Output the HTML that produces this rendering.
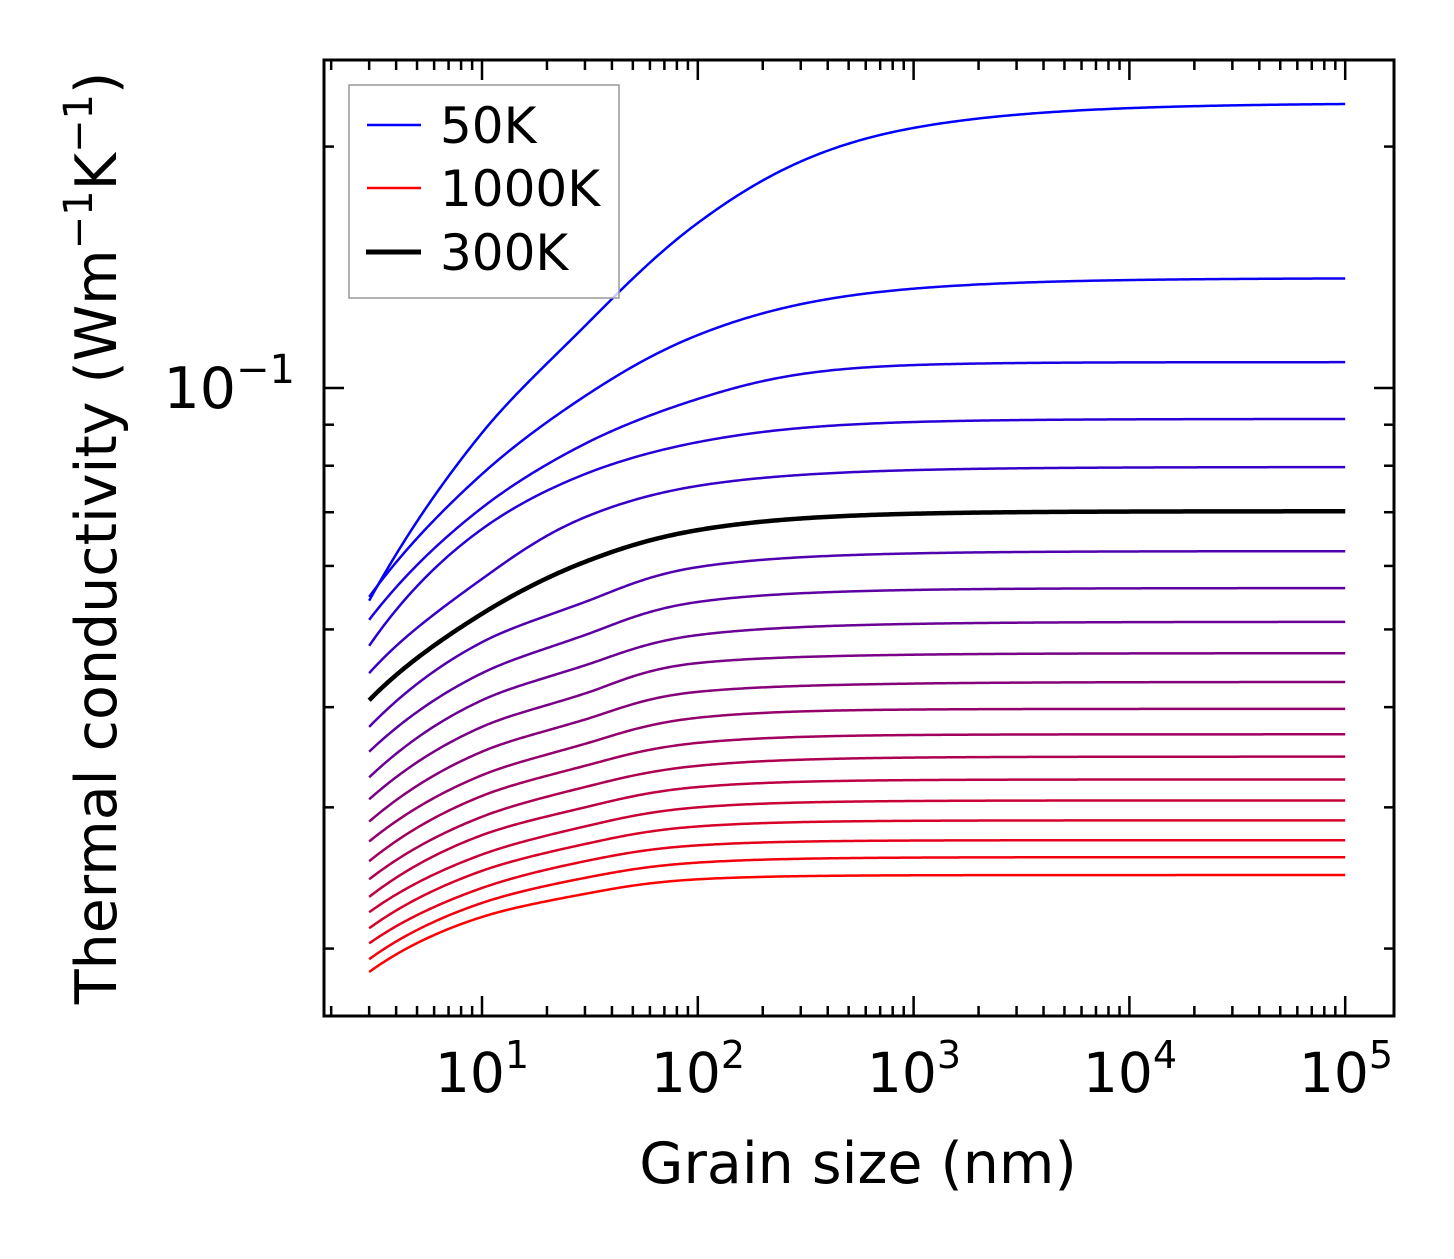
<!DOCTYPE html>
<html><head><meta charset="utf-8"><style>
html,body{margin:0;padding:0;background:#fff;}
svg text{font-family:"DejaVu Sans","Liberation Sans",sans-serif;fill:#000;}
</style></head><body>
<svg id="chart" width="1454" height="1254" viewBox="0 0 1454 1254" xmlns="http://www.w3.org/2000/svg">
<g id="curves"></g>
<g id="ticks"></g>
<rect x="324" y="60" width="1070" height="956" fill="none" stroke="#000" stroke-width="3"/>
<text x="482" y="1092" font-size="55" text-anchor="middle">10<tspan font-size="38" dy="-24">1</tspan></text>
<text x="698" y="1092" font-size="55" text-anchor="middle">10<tspan font-size="38" dy="-24">2</tspan></text>
<text x="914" y="1092" font-size="55" text-anchor="middle">10<tspan font-size="38" dy="-24">3</tspan></text>
<text x="1130" y="1092" font-size="55" text-anchor="middle">10<tspan font-size="38" dy="-24">4</tspan></text>
<text x="1346" y="1092" font-size="55" text-anchor="middle">10<tspan font-size="38" dy="-24">5</tspan></text>
<text x="295" y="408" font-size="57" text-anchor="end">10<tspan font-size="40" dy="-25">−1</tspan></text>
<text x="858" y="1183" font-size="57" text-anchor="middle">Grain size (nm)</text>
<text transform="translate(116,538) rotate(-90)" font-size="57" text-anchor="middle">Thermal conductivity (Wm<tspan font-size="40" dy="-24">−1</tspan><tspan dy="24">K</tspan><tspan font-size="40" dy="-24">−1</tspan><tspan dy="24">)</tspan></text>
<g>
<rect x="349" y="85" width="270" height="213" fill="#fff" fill-opacity="0.8" stroke="#999" stroke-width="1.5"/>
<line x1="367" y1="125" x2="421" y2="125" stroke="#0000ff" stroke-width="2.5"/>
<text x="440" y="143" font-size="50">50K</text>
<line x1="367" y1="188" x2="421" y2="188" stroke="#ff0000" stroke-width="2.5"/>
<text x="440" y="206" font-size="50">1000K</text>
<line x1="366" y1="252" x2="421" y2="252" stroke="#000" stroke-width="5"/>
<text x="440" y="270" font-size="50">300K</text>
</g>
</svg>
<script>
const grainSizes = [3, 10, 30, 100, 1000, 100000];
const temperatures = [50,100,150,200,250,300,350,400,450,500,550,600,650,700,750,800,850,900,950,1000];
const k50 = [0.0543,0.0879,0.1195,0.1606,0.2110,0.2267];
const k100 = [0.0549,0.0781,0.0977,0.1164,0.1330,0.1371];
const k150 = [0.0514,0.0709,0.0852,0.0969,0.1068,0.1077];
const k200 = [0.0477,0.0667,0.0781,0.0856,0.0907,0.0915];
const k250 = [0.0441,0.0578,0.0690,0.0755,0.0790,0.0797];
const k300 = [0.0408,0.0523,0.0607,0.0665,0.0697,0.0702];
const k350 = [0.0378,0.0482,0.0541,0.0598,0.0622,0.0626];
const k400 = [0.0352,0.0441,0.0492,0.0541,0.0560,0.0563];
const k450 = [0.0327,0.0408,0.0451,0.0492,0.0508,0.0511];
const k500 = [0.0307,0.0378,0.0416,0.0454,0.0465,0.0467];
const k550 = [0.0288,0.0352,0.0386,0.0418,0.0428,0.0430];
const k600 = [0.0272,0.0329,0.0360,0.0388,0.0398,0.0398];
const k650 = [0.0257,0.0310,0.0338,0.0361,0.0370,0.0370];
const k700 = [0.0244,0.0292,0.0318,0.0338,0.0347,0.0347];
const k750 = [0.0232,0.0277,0.0300,0.0318,0.0325,0.0325];
const k800 = [0.0222,0.0262,0.0284,0.0300,0.0306,0.0306];
const k850 = [0.0212,0.0250,0.0270,0.0284,0.0289,0.0289];
const k900 = [0.0203,0.0238,0.0257,0.0269,0.0273,0.0273];
const k950 = [0.0194,0.0228,0.0245,0.0256,0.0260,0.0260];
const k1000 = [0.0187,0.0219,0.0234,0.0244,0.0247,0.0247];
const series = [k50,k100,k150,k200,k250,k300,k350,k400,k450,k500,k550,k600,k650,k700,k750,k800,k850,k900,k950,k1000];
const highlightIndex = 5;

const NS = "http://www.w3.org/2000/svg";
const X0 = 482, XDEC = 215.8;
const Y0 = 388, YDEC = 802;
function xs(v){ return X0 + (Math.log10(v) - 1) * XDEC; }
function ys(v){ return Y0 - (Math.log10(v) + 1) * YDEC; }

function pchip(xa, ya){
  const n = xa.length, h = [], d = [], m = new Array(n);
  for (let i=0;i<n-1;i++){ h.push(xa[i+1]-xa[i]); d.push((ya[i+1]-ya[i])/h[i]); }
  if (n === 2){ m[0]=d[0]; m[1]=d[0]; }
  else {
    for (let i=1;i<n-1;i++){
      if (d[i-1]*d[i] <= 0) m[i] = 0;
      else { const w1 = 2*h[i]+h[i-1], w2 = h[i]+2*h[i-1]; m[i] = (w1+w2)/(w1/d[i-1]+w2/d[i]); }
    }
    m[0] = d[0]; m[n-1] = d[n-2];
  }
  return function(x){
    if (x >= xa[n-1]) return ya[n-1] + m[n-1]*(x-xa[n-1]);
    let i=0; while (i<n-2 && x>xa[i+1]) i++;
    const hh=h[i], t=(x-xa[i])/hh, t2=t*t, t3=t2*t;
    return (2*t3-3*t2+1)*ya[i] + (t3-2*t2+t)*hh*m[i] + (-2*t3+3*t2)*ya[i+1] + (t3-t2)*hh*m[i+1];
  };
}

const cg = document.getElementById("curves");
function drawCurve(vals, color, width, name){
  const n = vals.length, kinf = vals[n-1];
  const lx = [], ld = [];
  for (let i=0;i<n-1;i++){
    const D = Math.log10(kinf/vals[i]);
    if (D > 1e-6){ lx.push(Math.log10(grainSizes[i])); ld.push(Math.log10(D)); }
  }
  const f = pchip(lx, ld);
  const a = Math.log10(grainSizes[0]), b = Math.log10(grainSizes[n-1]);
  let dstr = "";
  const N = 400;
  for (let j=0;j<=N;j++){
    const L = a + (b-a)*j/N;
    const D = Math.pow(10, f(L));
    const v = kinf / Math.pow(10, D);
    dstr += (j?"L":"M") + xs(Math.pow(10,L)).toFixed(2) + "," + ys(v).toFixed(2);
  }
  const p = document.createElementNS(NS,"path");
  p.setAttribute("d", dstr);
  p.setAttribute("fill","none");
  p.setAttribute("stroke", color);
  p.setAttribute("stroke-width", width);
  p.setAttribute("stroke-linejoin", "round");
  
  
  cg.appendChild(p);
}
series.forEach(function(vals, i){
  const t = i/(series.length-1);
  const col = "rgb(" + Math.round(255*t) + ",0," + Math.round(255*(1-t)) + ")";
  drawCurve(vals, col, 2.5, "curve-" + temperatures[i] + "k");
});
drawCurve(series[highlightIndex], "#000", 4.5, "curve-300k-highlight");

const tg = document.getElementById("ticks");
function tick(x1,y1,x2,y2,name){
  const l = document.createElementNS(NS,"line");
  l.setAttribute("x1",x1); l.setAttribute("y1",y1); l.setAttribute("x2",x2); l.setAttribute("y2",y2);
  l.setAttribute("stroke","#000"); l.setAttribute("stroke-width","2.5");
  
  
  tg.appendChild(l);
}
for (let e=0;e<=5;e++){
  for (let k=1;k<=9;k++){
    const v = k*Math.pow(10,e), x = xs(v);
    if (x<326 || x>1392) continue;
    const len = k===1 ? 20 : 10;
    tick(x,1016,x,1016-len,"x-tick-mark");
    tick(x,60,x,60+len,"x-tick-mark-top");
  }
}
for (let e=-2;e<=-1;e++){
  for (let k=1;k<=9;k++){
    const v = k*Math.pow(10,e), y = ys(v);
    if (y<62 || y>1014) continue;
    const len = k===1 ? 20 : 10;
    tick(324,y,324+len,y,"y-tick-mark");
    tick(1394,y,1394-len,y,"y-tick-mark-right");
  }
}
</script>
</body></html>
